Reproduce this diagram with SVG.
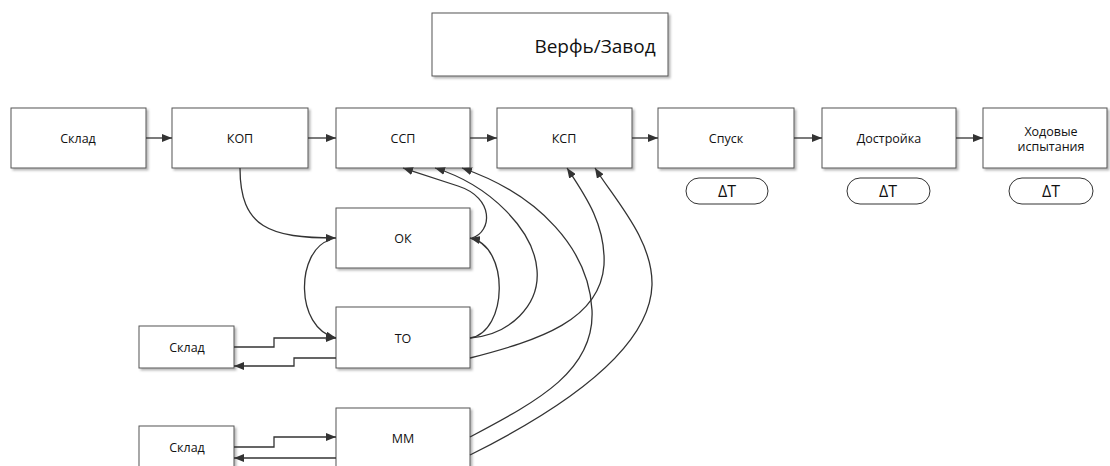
<svg xmlns="http://www.w3.org/2000/svg" width="1110" height="466" viewBox="0 0 1110 466">
<defs>
<marker id="arr" viewBox="0 0 10 8" refX="10" refY="4" markerWidth="10" markerHeight="8" markerUnits="userSpaceOnUse" orient="auto">
<path d="M0,0 L10,4 L0,8 Z" fill="#333"/>
</marker>
<filter id="sh" x="-5%" y="-5%" width="115%" height="120%">
<feDropShadow dx="2" dy="2" stdDeviation="0.8" flood-color="#999" flood-opacity="0.7"/>
</filter>
</defs>
<style>
.box{fill:#fff;stroke:#555;stroke-width:1;filter:url(#sh)}
.ov{fill:#fff;stroke:#333;stroke-width:1}
.t{font-family:"Open Sans","DejaVu Sans",sans-serif;font-size:12.5px;fill:#111;text-anchor:middle;dominant-baseline:central}
.big{font-size:19px}
.dt{font-size:16px}
.c{fill:none;stroke:#333;stroke-width:1.3}
</style>
<rect width="1110" height="466" fill="#fff"/>

<g id="zavod"><rect class="box" x="432" y="13" width="236" height="63"/><text class="t big" x="595" y="46">Верфь/Завод</text></g>

<g id="sklad-top"><rect class="box" x="11" y="108" width="135" height="60"/><text class="t" x="78" y="138">Склад</text></g>
<g id="kop"><rect class="box" x="172" y="108" width="136" height="60"/><text class="t" x="240" y="138">КОП</text></g>
<g id="ssp"><rect class="box" x="336" y="108" width="134" height="60"/><text class="t" x="403" y="138">ССП</text></g>
<g id="ksp"><rect class="box" x="497" y="108" width="135" height="60"/><text class="t" x="564" y="138">КСП</text></g>
<g id="spusk"><rect class="box" x="658" y="108" width="136" height="60"/><text class="t" x="726" y="138">Спуск</text>
<rect class="ov" x="686" y="178" width="82" height="26" rx="13"/><text class="t dt" x="727" y="191">ΔT</text></g>
<g id="dostroika"><rect class="box" x="822" y="108" width="134" height="60"/><text class="t" x="889" y="138">Достройка</text>
<rect class="ov" x="847" y="178" width="83" height="26" rx="13"/><text class="t dt" x="888" y="191">ΔT</text></g>
<g id="hodovye"><rect class="box" x="983" y="108" width="124" height="60"/><text class="t" x="1051" y="131">Ходовые</text><text class="t" x="1051" y="146">испытания</text>
<rect class="ov" x="1009" y="178" width="84" height="26" rx="13"/><text class="t dt" x="1051" y="191">ΔT</text></g>

<g id="ok"><rect class="box" x="336" y="208" width="134" height="60"/><text class="t" x="403" y="238">ОК</text></g>
<g id="to"><rect class="box" x="336" y="307" width="134" height="61"/><text class="t" x="403" y="338">ТО</text></g>
<g id="mm"><rect class="box" x="336" y="408" width="134" height="70"/><text class="t" x="403" y="438">ММ</text></g>
<g id="sklad-1"><rect class="box" x="139" y="326" width="95" height="42"/><text class="t" x="187" y="347">Склад</text></g>
<g id="sklad-2"><rect class="box" x="139" y="426" width="95" height="50"/><text class="t" x="187" y="447">Склад</text></g>

<g id="connectors">
<path class="c" d="M146,138 H172" marker-end="url(#arr)"/>
<path class="c" d="M308,138 H336" marker-end="url(#arr)"/>
<path class="c" d="M470,138 H497" marker-end="url(#arr)"/>
<path class="c" d="M632,138 H658" marker-end="url(#arr)"/>
<path class="c" d="M794,138 H822" marker-end="url(#arr)"/>
<path class="c" d="M956,138 H983" marker-end="url(#arr)"/>

<path class="c" d="M240,168 C240,228 270,238 336,238" marker-end="url(#arr)"/>
<path class="c" d="M330,240 C296,250 294,328 336,338" marker-end="url(#arr)"/>
<path class="c" d="M234,347 H274 V338 H336" marker-end="url(#arr)"/>
<path class="c" d="M336,358 H294 V366 H234" marker-end="url(#arr)"/>
<path class="c" d="M234,447 H274 V437 H336" marker-end="url(#arr)"/>
<path class="c" d="M336,458 H234" marker-end="url(#arr)"/>

<path class="c" d="M470,338 C508,332 510,246 470,238" marker-end="url(#arr)"/>
<path class="c" d="M472,238 C492,232 495,198 458,186 S415,172 403,168" marker-end="url(#arr)"/>
<path class="c" d="M470,338 C510,335 540,305 537,270 C534,230 490,185 435,168" marker-end="url(#arr)"/>
<path class="c" d="M470,437 C540,400 595,370 592,310 C589,250 540,195 462,168" marker-end="url(#arr)"/>
<path class="c" d="M470,358 C540,340 600,320 604,265 C606,225 585,195 567,168" marker-end="url(#arr)"/>
<path class="c" d="M470,455 C560,410 650,350 652,285 C653,240 615,200 595,168" marker-end="url(#arr)"/>
</g>
</svg>
